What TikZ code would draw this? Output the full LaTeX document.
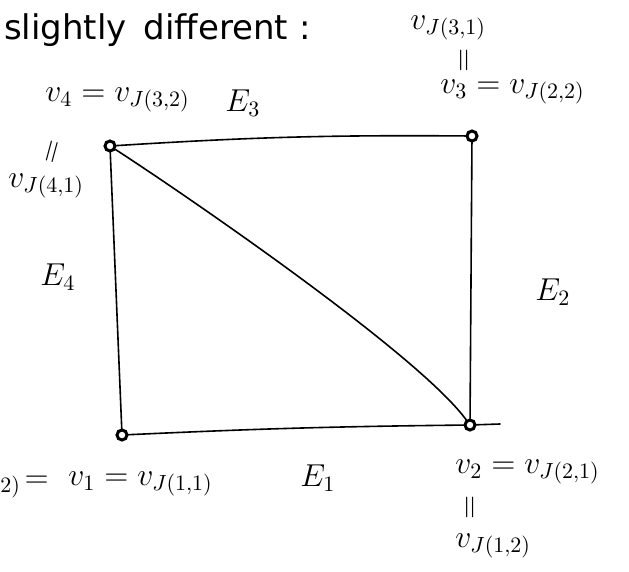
\documentclass[tikz,border=0pt]{standalone}
\usepackage{fontspec}
\setmainfont{DejaVu Sans}
\tikzset{
  lbl/.style={inner sep=0pt, font=\Large, scale=2.2, transform shape},
  small/.style={inner sep=0pt, font=\Large, scale=2.2, transform shape},
  vert/.style={circle, draw, line width=3pt, minimum size=10pt, inner sep=0pt, fill=white},
  edge/.style={line width=1.6pt, line cap=round}
}
\begin{document}
\begin{tikzpicture}[x=1pt,y=-1pt]
\useasboundingbox (0,0) rectangle (629,571);
% vertices
\node[vert] (v4) at (110,146) {};
\node[vert] (v3) at (472,136) {};
\node[vert] (v1) at (122,435) {};
\node[vert] (v2) at (470,425) {};
\coordinate (e1end) at (500,424);
% edges
\draw[edge] (v4) to[bend left=2] (v3);
\draw[edge] (v3) -- (v2);
\draw[edge] (v4) -- (v1);
\draw[edge] (v1) to[bend left=1] (v2);
\draw[edge] (v2) -- (e1end);
\draw[edge] (v4) .. controls (160,178) and (415,350) .. (v2);
% texts
\node[inner sep=0pt, anchor=west, font=\fontsize{34}{38}\selectfont] (title) at (4,30) {slightly\enspace different :};
\node[lbl, anchor=west] (vj31) at (410,28) {$v_{J(3,1)}$};
\node[small, rotate=90] (eqa) at (466,60) {$=$};
\node[lbl, anchor=west] (v3l) at (440,92) {$v_3 = v_{J(2,2)}$};
\node[lbl, anchor=west] (v4l) at (45,100) {$v_4 = v_{J(3,2)}$};
\node[lbl, anchor=west] (E3) at (225,103) {$E_3$};
\node[small, rotate=75] (eqb) at (54,152) {$=$};
\node[lbl, anchor=west] (vj41) at (8,186) {$v_{J(4,1)}$};
\node[lbl, anchor=west] (E4) at (40,277) {$E_4$};
\node[lbl, anchor=west] (E2) at (535,292) {$E_2$};
\node[lbl, anchor=west] (E1) at (300,478) {$E_1$};
\node[lbl, anchor=west] (vj42) at (0,486) {$\vphantom{v}_{2)}\!=$};
\node[lbl, anchor=west] (v1l) at (68,484) {$v_1 = v_{J(1,1)}$};
\node[lbl, anchor=west] (v2l) at (455,472) {$v_2 = v_{J(2,1)}$};
\node[small, rotate=90] (eqc) at (472,507) {$=$};
\node[lbl, anchor=west] (vj12) at (455,546) {$v_{J(1,2)}$};
\end{tikzpicture}
\end{document}
